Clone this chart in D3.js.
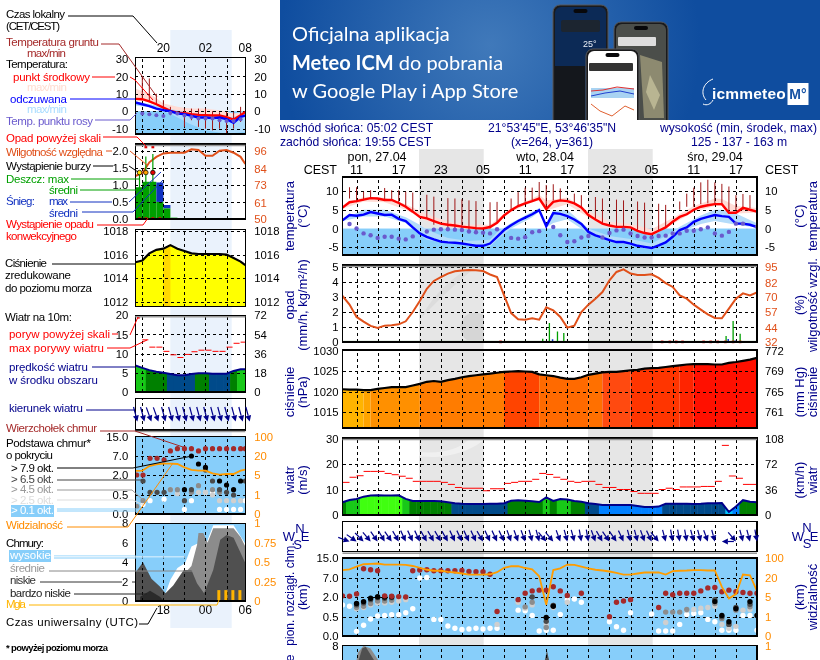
<!DOCTYPE html>
<html><head><meta charset="utf-8">
<script src="https://cdn.jsdelivr.net/npm/d3@7"></script>
<style>
html,body{margin:0;padding:0;background:#fff;overflow:hidden}
svg{display:block;font-family:"Liberation Sans",Arial,sans-serif;font-size:11px}
.axis .domain{display:none}
.axis text{font-family:"Liberation Sans",Arial,sans-serif;font-size:11.3px}
.grid .domain{display:none}
.grid line{stroke:#000;stroke-width:1;stroke-dasharray:3 3;shape-rendering:crispEdges}
.grid text{display:none}
</style></head><body>
<div id="chart"></div>
<script>
// ---------- DATA (hourly, local time; hour 24 = midnight 28.04) ----------
const mainHours = d3.range(9, 69);
const leftHours = d3.range(16, 32).concat([31.67]);
const hourTicksMain = [11,14,17,20,23,26,29,32,35,38,41,44,47,50,53,56,59,62,65];
const hourLabelsMain = [11,17,23,29,35,41,47,53,59,65];
const hourLabelTextMain = ["11","17","23","05","11","17","23","05","11","17"];
const hourTicksLeft = [17,20,23,26,29];

const tempMain = [5.6,7,7.3,7.7,8.1,8,7.6,7.6,6.8,5.8,4.5,3.1,2.7,2,1.3,1,.8,.5,.3,.1,0,.4,1.5,3.5,4.9,6,6.7,7.3,8,5.2,7.1,7.5,7.3,6.7,5.6,3.6,2.4,1.3,.8,.45,.45,.3,-.6,-1.2,-1.5,-.6,.3,1.8,3.1,3.8,5,5.8,6.2,6.5,6.5,4.2,4.2,5.5,5,4.5];
const feltMain = [2.2,3.6,3.4,3.7,4.4,4,3.6,3.7,2.6,2,.3,-1.3,-2.2,-2.9,-3.5,-3.7,-3.8,-4,-4.3,-4.6,-4.6,-4,-2.2,-.4,.9,2,2.9,3.8,4.9,.6,4.1,3.9,3.3,2.4,1.2,-.9,-1.8,-2.4,-3.1,-3.6,-3.6,-4,-4.6,-4.9,-5.2,-4.5,-3.7,-2.2,-.4,.3,1.8,2.6,3.1,3.6,3.3,3.1,1.3,1.3,1,.4];
const dewMain = [null,1.2,0,-1.3,-1.8,-2.5,-2.2,-2.2,-2.7,-2.9,-2.1,null,-.8,-.3,-.2,-.2,-.3,-.4,-.8,-1,-1.1,-1.3,-.2,null,-2.5,-2.7,-2.3,-1,-.7,null,.4,-1.8,-3.6,-3.4,-2.4,-2,null,-2.4,-1.2,-.5,-.3,-1.3,-2,-2.4,-2.4,-2,-1.9,-1.3,-1.3,-.6,-.6,-.2,.3,-1.3,-1.9,-.9,1.3,1.3,null,.5];
const groundMaxMain = [null,11,11,9.8,10.2,null,10.8,10.2,10.2,9.8,9.6,null,9,8.5,null,8.1,8,7.8,7.5,7.3,null,7,7.1,null,8,9.7,10.9,10.9,12.4,11.6,11.8,10.7,null,9.3,8.9,null,8.4,8,null,7.7,7.5,null,7.2,6.9,null,6.6,6.3,null,7.2,9.3,10.9,12.3,13,12.3,11.9,11.2,8.9,9.2,8.9,null];
const groundMinMain = [null,8,7,7.5,8,null,7.5,7.5,6.8,5.8,4.5,null,2.7,1,null,0,-.2,-.4,-.5,-.9,null,0,1.5,null,4.9,6,7,7.5,8,5.2,7.5,7.5,null,6.7,5.6,null,2.4,1.3,null,.45,.45,null,-.9,-1.3,null,-.5,.4,null,5,5.8,5.8,6.5,6.7,6.7,6.7,4.2,4.9,4.9,5.4,null];
const bandHours = [9,12,15,18,21,24,27,30,33,36,37,38,41,44,47,50,53,56,59,62,63,65,68];
const pinkUpper = [5.9,8.5,8.2,6.5,3.8,1.8,1,1,5.4,8,9,7.5,8.3,4.6,1.8,1.2,-.2,2.8,6,8,7.9,6,5.5];
const pinkLower = [5.3,7.2,7,5,2,.5,-.2,0,4.5,7,7.6,4.8,6.5,3,.5,0,-2,1.2,4.5,6,6,4,4.2];
const feltBandHours = [9,12,15,18,20,21,24,27,30,31,33,36,37,38,39,41,44,47,50,53,55,57,60,62,63,65,68];
const feltUpper = [2.4,5,5,3,1,-.3,-2.5,-3.3,-3,-1,1.5,4.5,5.5,1.5,4.8,5,0,-2,-2.8,-4,-2,.5,3.5,5,5,4,1.4];
const feltLower = [2,3.2,3.2,1.5,-1.8,-3,-4,-4.6,-4.8,-3,0,3,4.5,.3,1.5,2.5,-1.3,-3.5,-4.4,-5.5,-4,-1,1.2,2,1.7,1,.3];

const humidMain = [3.07,2.5,1.67,1.36,1.07,.93,1.09,1.11,1.18,1.38,2,2.73,3.55,4.07,4.33,4.56,4.71,4.76,4.8,4.78,4.73,4.5,4.33,3.11,1.93,1.51,1.49,1.58,1.49,2.31,2.11,1.67,.96,1.09,2,2.49,2.89,3.33,4.11,4.67,4.84,4.56,4.47,4.47,4.51,4.27,3.93,3.67,3.11,2.89,2.49,2.16,1.84,1.6,1.58,2.22,2.89,3.24,3.11,3.31];
const rainHours = [36.6,37.5,38.45,39.6,40.5,63.6,64.6,65.6];
const rainMax = [.05,.22,1.26,.7,.6,.4,1.4,.55];
const snowHours = [36.9,38.9,63.9,64.9,67.6];
const snowMax = [.06,.18,.2,.1,.05];
const convectiveHours = [31.5,54.5,55.6,56.5,57.4,60.4,61.4,62.4,63.5,64.6,65.6];

const pressMain = [1020.6,1020.5,1020.5,1020.4,1020.4,1020.7,1020.9,1021.1,1021.1,1021.1,1021.5,1021.9,1022.4,1022.6,1022.4,1022.8,1023.1,1023.5,1023.8,1024,1024.2,1024.4,1024.6,1024.8,1024.9,1025,1024.9,1024.8,1024.2,1024,1023.8,1023.4,1023.1,1023.1,1023.5,1024.1,1024.4,1024.7,1024.8,1024.8,1025,1025.2,1025.3,1025.6,1025.7,1025.8,1026,1026.2,1026.4,1026.6,1026.7,1026.7,1026.7,1026.6,1026.6,1027,1027.2,1027.5,1027.8,1028.2];
const pressSegStart = [9,12,13,20,32,37,44,46,50,57,59];
const pressSegEnd = [12,13,20,32,37,44,46,50,57,59,68];
const pressSegColor = ["#ffb400","#ffa400","#ff9000","#ff7c00","#ff4400","#ff6a00","#ff7000","#ff4a10","#ff3500","#ff2400","#ff1000"];

const windMain = [5,5.9,6.3,7.2,7.6,7.7,7.6,7.6,7.7,6.3,5.5,5.5,5.5,5.5,5.4,5,4.6,4.4,4.3,4.3,4.3,4.4,4.4,4.6,5.6,5.8,5.6,5.4,5.1,6.9,5.5,6.3,6.1,5.5,5.2,4.6,4.3,3.9,3.9,3.9,3.9,3.9,3.5,3.1,3.1,3.3,4.4,4.4,4.4,4.4,4.3,4.4,4.6,4.6,4.7,1.2,3.3,5.8,5.2,5];
const gustMain = [12.8,14.8,15.4,17.1,17.1,17.1,16.3,15.8,15.2,14.4,13.2,13.2,13.2,13.2,12.8,12,10.8,10.5,10.5,10.5,9.5,10.3,10.3,12.4,12.8,13.2,13.2,14,16.3,15.9,14.8,14,13.2,12.8,13.2,13.2,12,10.8,10.8,10,10,9.2,8.5,8.5,8.5,10,10.5,10,11,11,11,11.2,11.2,13.2,27.3,15.3,14.4,12,12];
const windDirMain = [null,290,305,315,320,325,330,325,330,335,335,335,330,330,330,330,335,335,335,335,330,335,335,335,340,340,340,345,345,320,320,340,345,345,350,350,340,330,325,325,335,345,345,340,335,320,345,350,350,350,345,345,340,345,90,null,320,345,345,350];
const windThresholds = [2,4,4.8,5.85,7];
const windColors = ["#00c8ff","#0080ff","#004a8a","#008000","#18c818","#40ff10"];

const cloudTopMain = [[9,2.3],[10,2.2],[11,2.8],[12,10.7],[13,10.3],[14,9.9],[15,2.3],[16,2.2],[17,2.1],[18,2],[19,9.9],[20,10.2],[21,10.3],[22,9.9],[23,9.9],[24,9.9],[25,9.9],[26,10],[27,9.6],[28,9.5],[29,9.5],[30,8.5],[31,.9],[34,1.8],[35,3],[36,3.6],[37,3.8],[38,3.8],[39,4.7],[40,3.6],[41,2.4],[43,3],[47,.5],[48,1.6],[49,1.7],[50,1.8],[54,1.2],[55,3],[56,2.6],[57,3],[58,3],[59,3],[60,3.6],[61,4.4],[62,4.5],[63,3.4],[64,3.8],[65,3.4],[66,3.2],[67,3],[68,3]];
const cloudWhiteMain = [[9,1.4],[10,1.3],[11,.12],[12,.28],[13,.44],[14,.55],[15,.6],[16,.65],[17,.65],[18,.8],[19,1.1],[20,7],[21,7.2],[22,.43],[23,.43],[24,.26],[25,.2],[26,.17],[27,.18],[28,.2],[29,.18],[30,.2],[31,.2],[34,1],[35,.95],[36,.6],[37,.13],[38,.15],[39,.15],[40,.67],[41,1.8],[42,1.85],[43,1.6],[47,.37],[48,.24],[49,.15],[50,.8],[53,.7],[54,.13],[55,.13],[56,.13],[57,.3],[58,.67],[59,.75],[60,.8],[61,.43],[62,.37],[63,.15],[64,.15],[65,.15],[66,.6],[67,.6],[68,.15]];
const cloudLightMain = [[11,1.1],[12,1.2],[13,1.4],[14,1.55],[15,1.55],[16,1.6],[17,1.7],[18,1.8],[31,.3],[34,1.6],[35,1.15],[36,1.4],[38,.3],[39,1.2],[41,1.6],[55,.35],[58,1],[59,1.05],[60,1.15],[61,1.2],[62,1.3],[63,.3],[64,.2],[65,.25],[66,1],[67,1.05],[68,.6]];
const cloudGrayMain = [[11,1.2],[12,1.3],[13,1.5],[14,1.7],[15,1.7],[16,1.75],[35,1.25],[36,1.6],[38,.22],[39,1.35],[55,.85],[56,.85],[57,.85],[58,1.05],[62,1.5],[63,.45],[64,.3],[65,1],[67,1.25]];
const cloudDarkMain = [[11,1.4],[12,1.55],[13,1.8],[14,1.95],[15,1.9],[16,1.95],[36,2],[38,.38],[39,1.35],[62,1.8],[63,.5],[64,.3],[65,1.2],[67,1.45]];
const cloudBlackMain = [[11,1.5],[12,1.65],[13,1.9],[14,2.05],[15,2],[16,2.05],[38,.48],[39,1.3],[62,1.65],[63,.6],[64,.37],[65,1.1],[67,1.65],[68,.6]];
const visMain = [51.7,54.5,65.5,75,76.5,78,73.8,73.8,73.8,72.4,68,61,53,49,49,44.8,42,38,33.8,33.8,33.8,35,43.4,61,67,67,60,54.5,27,3.4,51.7,58.6,73.8,72.4,65.5,58.6,53,50,46,40.7,33.8,33.8,38,42,42,42,33.8,47.6,49,50,51.7,51.7,50,50,13,4.7,7.3,33.8,31,9.7];
const mainCloudGrayHours = [11,11.2,12,13,14.1];
const mainCloudGrayVal = [6.5,7.3,8,7.7,6.5];
const mainCloudDarkHours = [11.3,11.8,12.3,13.5];
const mainCloudDarkVal = [6.5,7.7,7.9,6.5];
const mainCloudSpikeHours = [37.8,38.1,38.4];
const mainCloudSpikeVal = [6.5,7.5,6.5];

const tempLeft = [7.1,6.9,5.7,4,2.1,.2,-.8,-1.1,-1.7,-2.1,-2.3,-2.5,-2.5,-3.4,-4.8,-2.3,-.4];
const feltLeft = [5,4,2.9,1.5,.6,0,-1.3,-1.7,-2.7,-3.6,-3.6,-4,-3.6,-4.6,-6.7,-3.3,-2.5];
const dewLeft = [null,-1.3,-1.7,-2.3,-2.7,-1,-1.3,-2.5,-3.3,-4.2,-4.2,-4.2,-5.2,-5.6,-5.6,-4.6,null];
const pinkLeftUpper = [13,11.5,10.2,7.5,4.4,3.5,2.5,2,1.5,1.5,1.5,1,.6,-.3,-1.3,-.8,-.4];
const pinkLeftLower = [6.5,6,5,3.3,1.4,-.4,-1.4,-1.7,-2.3,-2.7,-2.9,-3,-3,-4,-5.5,-3,-1];
const feltLeftBandHours = [16,18,21,23.8,26,29,31.67];
const feltLeftUpper = [5.6,4.2,1.3,-1,-1.6,-3.5,-2.5];
const feltLeftLower = [3.3,2.3,-1.5,-7.3,-11,-13,-12];
const groundMaxLeft = [null,20.1,18.8,10,6.4,2.5,null,1.5,1.5,1.5,1.5,0,-.6,-.4,-.4,2.5,null];
const groundMinLeft = [null,6.3,5.4,4,2,-2.3,null,-9,-5.2,-9,-10,-11,-10,-12.8,-10,-6.2,null];
const humidLeft = [1.26,1.34,1.66,1.82,1.92,1.94,1.94,1.94,2.04,2.02,1.85,1.85,2,2.02,1.94,1.82,1.61];
const rainLeftHours = [16,17,18,19,20,21];
const rainLeftMean = [.93,1.09,1.09,.5,.31,.04];
const rainLeftSnowTop = [null,null,null,1.07,.41,null];
const rainMaxHours = [16.6,17.5,18.5];
const rainMaxVal = [1.38,1.83,1.9];
const stormHours = [16.6,17.5,18.5];
const stormColors = ["#ffe000","#ffa000","#e00000"];
const overScaleHours = [17.5,18.5];
const convectiveLeft = [16.6,17.5,18.5,19.5];
const pressLeft = [1015.35,1015.5,1016.1,1016.4,1016.5,1016.8,1016.5,1016.3,1016.1,1016.05,1016.05,1016.05,1016.05,1016,1015.7,1015.4,1015.1];
const pressLeftSegStart = [16,20];
const pressLeftSegEnd = [31.67,21];
const pressLeftSegColor = ["#ffff00","#ffd800"];
const windLeft = [6.9,6.3,5.7,5.3,5,4.7,4.4,4.4,4.7,4.9,4.9,4.75,4.75,4.75,5.5,5.9,5.9];
const gustLeftHours = [17,18,19,20,21,22,23,24,25,26,27,28,29,30,31];
const gustLeft = [13.6,11.7,11.7,10.6,9.7,9,9.8,10.5,10.9,10.9,10.6,10.6,11.7,12.7,13];
const windDirLeftHours = [16.3,17.3,18.3,19.3,20.3,21.3,22.3,23.3,24.3,25.3,26.3,27.3,28.3,29.3,30.3,31.3,32.3];
const windDirLeft = [345,345,340,340,345,345,345,345,345,345,345,345,345,345,345,345,345];
const cloudTopLeft = [[16.2,2],[17.1,2],[18.1,6.4],[19.1,6.4],[20.1,6],[21,9.1],[22,10],[23,10],[24,10],[25,9.1],[26,10],[27,10],[28,10],[29,10],[30,10],[31,10],[31.67,10]];
const cloudBlackLeft = [[23,.9],[24,7],[25,4.9],[26,4],[28,1.55],[29,1.25],[30,.9],[31,1.55]];
const cloudDarkLeft = [[17.1,1.55],[18.1,.7],[19.1,.7],[20.1,.7],[23,.35],[24,.9],[26,3.3],[27,1.55],[28,.9],[29,.7],[30,.5],[31.67,1.55]];
const cloudGrayLeft = [[16.2,.2],[17.1,.35],[21,.9],[22,.9],[24,.7],[25,1.2],[27,.9],[28,.7]];
const cloudLightLeft = [[21,.9],[22,.6],[25,.7],[26,.7],[27,.5],[28,.35],[29,.35],[30,.35],[31,.35]];
const cloudWhiteLeft = [[17.1,.25],[18.1,.35],[20.1,.39],[23,.12],[24,.35],[26,.7],[27,.7],[28,.12],[29,.12],[30,.12],[31,.12],[31.67,.35]];
const visLeft = [8.2,8.4,12.1,13.4,14,14,13.7,11,9,8.4,8.4,6.3,5.3,5.8,5.8,8.4,9.2];
const highCloudHours = [20.3,21,22,23.1,24,24.8,26.1,27.1,30,31.67];
const highCloudVal = [.8,2.2,3.4,3.9,5.6,5.9,5.9,7.8,7.8,5.9];
const midCloudHours = [23.1,24,24.8,25,25.7,26.3,27.1,30,31,31.67];
const midCloudVal = [2.9,3.6,5.8,7,7,6,7.5,7.5,6.6,5.6];
const lowCloudHours = [16,17.1,18.3,19.5,20.3,21.4,22.9,24,24.8,25.8,27.1,28.1,29,30,31.67];
const lowCloudVal = [2.9,4,2.3,1.5,.8,1.6,3.2,3.2,1.8,.8,3.2,6.3,6.8,6.5,3.9];
const vlowCloudHours = [16.7,18.1,19.5,20.1];
const vlowCloudVal = [.45,1.05,.45,0];
const fogHours = [27.9,28.9,29.9,30.9];
const fogVal = [.14,.14,.14,.14];

// tick label lists
const tempTicksMain=[-5,0,5,10], opadTicks=[0,1,2,3,4,5], humidTicks=[95,82,70,57,44,32];
const pressTicks=[1015,1020,1025,1030], mmHgLabels=["761","765","769","772"];
const windTicks=[0,10,20,30], windKmh=[0,36,72,108];
const cloudAxisKm=[0,.5,2,7,15], visAxisKm=[0,1,5,20,100];
const tempTicksLeft=[-10,0,10,20,30], rainTicksLeft=[0,.5,1,1.5,2], humidLeftTicks=[50,61,73,84,96];
const pressLeftTicks=[1012,1014,1016,1018], windLeftTicks=[0,5,10,15,20], windLeftKmh=[0,18,36,54,72];
const cloudLeftTicks=[0,2,4,6,8], fogTicks=[0,.25,.5,.75,1];

// ---------- SETUP ----------
const W=820,H=660;
const svg=d3.select("#chart").append("svg").attr("width",W).attr("height",H).attr("viewBox",[0,0,W,H]);
const defs=svg.append("defs");
const C={navy:"#00008b",orange:"#ff8c00",hum:"#e0501a",red:"#ff0000",brown:"#a52a2a",blue:"#0000ff",dew:"#6a5acd",sky:"#87cefa",pink:"#ffdcd6",lblue:"#b4dcfa"};
const plain=d=>String(d);

// ---------- BANNER ----------
const grad=defs.append("radialGradient").attr("id","bn").attr("gradientUnits","userSpaceOnUse").attr("cx",490).attr("cy",45).attr("r",210);
grad.append("stop").attr("offset",0).attr("stop-color","#4079ba");
grad.append("stop").attr("offset",1).attr("stop-color","#0f4d9f");
defs.append("clipPath").attr("id","bnclip").append("rect").attr("x",280).attr("y",0).attr("width",540).attr("height",120);
const banner=svg.append("g").attr("clip-path","url(#bnclip)");
banner.append("rect").attr("x",280).attr("y",0).attr("width",540).attr("height",120).attr("fill","url(#bn)");
const bannerText=(y,parts)=>{const t=banner.append("text").attr("x",292).attr("y",y).attr("fill","#fff").attr("font-family","Lato").attr("font-size",20);parts.forEach(p=>t.append("tspan").attr("font-weight",p[1]?700:400).text(p[0]));};
bannerText(41,[["Oficjalna aplikacja",false]]);
bannerText(70,[["Meteo ICM",true],[" do pobrania",false]]);
bannerText(98,[["w Google Play i App Store",false]]);
function phone(x,y,w,h,fill){banner.append("rect").attr("x",x).attr("y",y).attr("width",w).attr("height",h+10).attr("rx",7).attr("fill","#1a1a1c").attr("stroke","#56585c").attr("stroke-width",1);
 banner.append("rect").attr("x",x+2).attr("y",y+2).attr("width",w-4).attr("height",h+8).attr("rx",6).attr("fill",fill);
 banner.append("rect").attr("x",x+w/2-7).attr("y",y+4).attr("width",14).attr("height",4).attr("rx",2).attr("fill","#08080a");}
phone(553,5,55,115,"#0c2a56");
banner.append("rect").attr("x",561).attr("y",20).attr("width",39).attr("height",12).attr("rx",2).attr("fill","#1c2530");
banner.append("text").attr("x",583).attr("y",47).attr("fill","#e8eef6").attr("font-size",9).text("25°");
banner.append("rect").attr("x",555).attr("y",66).attr("width",30).attr("height",54).attr("fill","#14171c");
phone(614,22,54,98,"#4b4e4a");
banner.append("rect").attr("x",618).attr("y",37).attr("width",38).attr("height",9).attr("rx",1).attr("fill","#ddd");
banner.append("path").attr("d","M640 55L662 62L664 118L644 118Z").attr("fill","#8d8a70");
banner.append("path").attr("d","M650 75L660 95L654 110L646 92Z").attr("fill","#b9b592");
phone(586,49,53,71,"#ffffff");
banner.append("rect").attr("x",589).attr("y",63).attr("width",44).attr("height",8).attr("rx",1).attr("fill","#333");
banner.append("rect").attr("x",591).attr("y",88).attr("width",43).attr("height",10).attr("fill","#a9d3f2");
banner.append("path").attr("d","M591 91L603 90L617 87L634 89").attr("fill","none").attr("stroke","#e03030").attr("stroke-width",1);
banner.append("path").attr("d","M591 96L605 93L620 91L634 94").attr("fill","none").attr("stroke","#2040d0").attr("stroke-width",1);
banner.append("path").attr("d","M591 104L600 111L612 116L625 106L634 110").attr("fill","none").attr("stroke","#e06030").attr("stroke-width",1);
banner.append("text").attr("x",712).attr("y",99).attr("fill","#fff").attr("font-size",15.5).attr("font-weight",700).attr("letter-spacing",.2).text("icmmeteo");
banner.append("path").attr("d","M706 100C700 93 703 83 713 79M703 104C707 106 711 104 713 100").attr("fill","none").attr("stroke","#fff").attr("stroke-width",1);
banner.append("rect").attr("x",787.5).attr("y",83).attr("width",21).attr("height",22).attr("fill","#fff");
banner.append("text").attr("x",798).attr("y",99).attr("text-anchor","middle").attr("fill","#1652a4").attr("font-size",14).attr("font-weight",700).text("M°");

// ---------- SCALES ----------
const xM=d3.scaleLinear().domain([9,68]).range([342.5,757]);
const xL=d3.scaleLinear().domain([16,31.67]).range([135.3,245.3]);
function clipFor(id,x,y,w,h){defs.append("clipPath").attr("id",id).append("rect").attr("x",x).attr("y",y).attr("width",w).attr("height",h);}

// night bands, with the faint watermark that shows through the first one
svg.append("rect").attr("x",419).attr("y",149).attr("width",64.7).attr("height",511).attr("fill","#e6e6e6");
svg.append("rect").attr("x",588).attr("y",149).attr("width",64.7).attr("height",511).attr("fill","#e6e6e6");
svg.append("rect").attr("x",170.3).attr("y",30).attr("width",61.4).attr("height",598).attr("fill","#eaf2fc");
svg.append("path").attr("d","M421 318C436 290 458 272 482 262C462 278 442 296 421 318Z").attr("fill","#dcdcdc");
svg.append("path").attr("d","M483.7 315A13 13 0 0 0 467 340L483.7 340Z").attr("fill","#d6d6d6");
svg.append("path").attr("d","M419 456C442 460 470 452 483.7 440L483.7 438L470 438C460 450 440 454 419 452Z").attr("fill","#f0f0f0");

// panel helper
function Panel(x,top,bottom,id,ticksX){
  const [l,r]=x.range();
  clipFor(id,l,top,r-l,bottom-top);
  const g=svg.append("g");
  const inner=g.append("g").attr("clip-path",`url(#${id})`);
  return {g,inner,top,bottom,l,r,x,ticksX,
    grid(y,yt){
      inner.append("g").attr("class","grid").attr("transform",`translate(0,${bottom})`)
        .call(d3.axisBottom(x).tickValues(ticksX).tickSize(-(bottom-top)));
      if(y) inner.append("g").attr("class","grid").attr("transform",`translate(${l},0)`)
        .call(d3.axisLeft(y).tickValues(yt).tickSize(-(r-l)));
    },
    border(){g.append("rect").attr("x",l).attr("y",top).attr("width",r-l).attr("height",bottom-top).attr("fill","none").attr("stroke","#000").attr("stroke-width",1.2).style("shape-rendering","crispEdges");},
    shade(side){const yy=side==="top"?top+1.5:bottom+1.5;g.append("line").attr("x1",l).attr("x2",r).attr("y1",yy).attr("y2",yy).attr("stroke","#999").attr("stroke-width",1.5);}
  };
}
function axisL(p,y,vals,fmt,pad,col){const a=d3.axisLeft(y).tickValues(vals).tickSize(0).tickPadding(pad).tickFormat(fmt||plain);
  p.g.append("g").attr("class","axis").attr("transform",`translate(${p.l},0)`).call(a).call(s=>s.selectAll("text").attr("fill",col||"#000"));}
function axisR(p,y,vals,fmt,pad,col){const a=d3.axisRight(y).tickValues(vals).tickSize(0).tickPadding(pad).tickFormat(fmt||plain);
  p.g.append("g").attr("class","axis").attr("transform",`translate(${p.r},0)`).call(a).call(s=>s.selectAll("text").attr("fill",col||"#000"));}
const lineG=(x,y)=>d3.line().defined((d)=>d[1]!=null).x(d=>x(d[0])).y(d=>y(d[1]));
const zip=(a,b)=>a.map((v,i)=>[v,b[i]]);
function plotLine(p,y,hours,vals,col,w){p.inner.append("path").datum(zip(hours,vals)).attr("d",lineG(p.x,y)).attr("fill","none").attr("stroke",col).attr("stroke-width",w);}
function plotBand(p,y,hours,up,lo,col){p.inner.append("path").datum(hours.map((h,i)=>[h,up[i],lo[i]])).attr("d",d3.area().x(d=>p.x(d[0])).y0(d=>y(d[2])).y1(d=>y(d[1]))).attr("fill",col);}
function plotArea(p,y,hours,vals,base,col){p.inner.append("path").datum(zip(hours,vals)).attr("d",d3.area().x(d=>p.x(d[0])).y0(y(base)).y1(d=>y(d[1]))).attr("fill",col);}
function dots(p,y,pts,col,r){p.inner.append("g").selectAll("circle").data(pts.filter(d=>d[1]!=null)).join("circle").attr("cx",d=>p.x(d[0])).attr("cy",d=>y(d[1])).attr("r",r).attr("fill",col);}
function gustDashes(p,y,hours,vals,w){p.inner.append("g").selectAll("line").data(zip(hours,vals)).join("line").attr("x1",d=>p.x(d[0])).attr("x2",d=>p.x(d[0])+w).attr("y1",d=>y(d[1])).attr("y2",d=>y(d[1])).attr("stroke",C.red).attr("stroke-width",1);}
function ground(p,y,hours,mx,mn){p.inner.append("g").selectAll("line").data(hours.map((h,i)=>[h,mx[i],mn[i]]).filter(d=>d[1]!=null)).join("line").attr("x1",d=>p.x(d[0])).attr("x2",d=>p.x(d[0])).attr("y1",d=>y(d[1])).attr("y2",d=>y(d[2])).attr("stroke","#a01818").attr("stroke-width",1);}
function windCols(p,y,hours,vals){const c=d3.scaleThreshold().domain(windThresholds).range(windColors);
  const id=p.inner.attr("clip-path").slice(5,-1)+"w";
  defs.append("clipPath").attr("id",id).append("path").datum(zip(hours,vals)).attr("d",d3.area().x(d=>p.x(d[0])).y0(y(0)).y1(d=>y(d[1])));
  p.inner.append("g").attr("clip-path",`url(#${id})`).selectAll("rect").data(zip(hours,vals)).join("rect")
    .attr("x",d=>p.x(d[0]-.5)).attr("width",(p.x(1)-p.x(0))+.5).attr("y",p.top).attr("height",p.bottom-p.top).attr("fill",d=>c(d[1]));}
function segCols(p,y,hours,vals,s,e,col,base){const id=p.inner.attr("clip-path").slice(5,-1)+"p";
  defs.append("clipPath").attr("id",id).append("path").datum(zip(hours,vals)).attr("d",d3.area().x(d=>p.x(d[0])).y0(p.bottom).y1(d=>y(d[1])));
  p.inner.append("g").attr("clip-path",`url(#${id})`).selectAll("rect").data(s.map((v,i)=>[v,e[i],col[i]])).join("rect")
    .attr("x",d=>p.x(d[0])).attr("width",d=>p.x(d[1])-p.x(d[0])).attr("y",p.top).attr("height",p.bottom-p.top).attr("fill",d=>d[2]);}
function arrows(p,hours,dirs,tipY,len,col){const g=svg.append("g");
  zip(hours,dirs).filter(d=>d[1]!=null).forEach(d=>{const a=d[1]*Math.PI/180,tx=p.x(d[0]),dx=Math.sin(a),dy=-Math.cos(a);
    const bx=tx+dx*len,by=tipY+dy*len,hx=tx+dx*6,hy=tipY+dy*6,px=-dy*3,py=dx*3;
    g.append("line").attr("x1",bx).attr("y1",by).attr("x2",hx).attr("y2",hy).attr("stroke",col).attr("stroke-width",1.2);
    g.append("path").attr("d",`M${tx},${tipY}L${hx+px},${hy+py}L${hx-px},${hy-py}Z`).attr("fill",col);});}
const cleanSky=(p)=>p.inner.append("rect").attr("x",p.l).attr("y",p.top).attr("width",p.r-p.l).attr("height",p.bottom-p.top).attr("fill",C.sky).style("mix-blend-mode","multiply");

// ---------- MAIN PANELS ----------
const pT=Panel(xM,177,255,"m1",hourTicksMain);
const yT=d3.scaleLinear().domain([-5,10]).range([247.3,191]);
pT.inner.append("rect").attr("x",pT.l).attr("y",yT(0)).attr("width",pT.r-pT.l).attr("height",pT.bottom-yT(0)).attr("fill",C.sky).style("mix-blend-mode","multiply");
plotBand(pT,yT,bandHours,pinkUpper,pinkLower,C.pink);
plotBand(pT,yT,feltBandHours,feltUpper,feltLower,C.lblue);
pT.grid(yT,[-5,5,10]);
ground(pT,yT,mainHours,groundMaxMain,groundMinMain);
plotLine(pT,yT,mainHours,tempMain,C.red,2.4);
plotLine(pT,yT,mainHours,feltMain,C.blue,2.4);
dots(pT,yT,zip(mainHours,dewMain),C.dew,2.2);
pT.border();axisL(pT,yT,tempTicksMain,null,4);axisR(pT,yT,tempTicksMain,null,8);

const pO=Panel(xM,265,342,"m2",hourTicksMain);
const yO=d3.scaleLinear().domain([0,5]).range([342,267]);
const yH=d3.scaleLinear().domain([32,95]).range([342,267]);
pO.grid(yO,[1,2,3,4,5]);
plotLine(pO,yO,mainHours,humidMain,C.hum,2);
pO.inner.append("g").selectAll("line").data(zip(rainHours,rainMax)).join("line").attr("x1",d=>xM(d[0])).attr("x2",d=>xM(d[0])).attr("y1",yO(0)).attr("y2",d=>yO(d[1])).attr("stroke","#00a000").attr("stroke-width",1.3);
pO.inner.append("g").selectAll("line").data(zip(snowHours,snowMax)).join("line").attr("x1",d=>xM(d[0])).attr("x2",d=>xM(d[0])).attr("y1",yO(0)).attr("y2",d=>yO(d[1])).attr("stroke","#1030d0").attr("stroke-width",1.5);
pO.inner.append("line").attr("x1",pO.l).attr("x2",pO.r).attr("y1",yO(0)-.6).attr("y2",yO(0)-.6).attr("stroke","#006400").attr("stroke-width",.8);
pO.g.append("g").selectAll("rect").data(convectiveHours).join("rect").attr("x",d=>xM(d)-1.3).attr("y",yO(0)-1.4).attr("width",2.6).attr("height",2.6).attr("fill","#e00000");
pO.border();pO.shade("top");axisL(pO,yO,opadTicks,null,4);axisR(pO,yH,humidTicks,null,8,C.hum);

const pP=Panel(xM,350,428,"m3",hourTicksMain);
const yP=d3.scaleLinear().domain([1015,1030]).range([412.3,350.5]);
segCols(pP,yP,mainHours,pressMain,pressSegStart,pressSegEnd,pressSegColor);
pP.grid(yP,[1015,1020,1025]);
plotLine(pP,yP,mainHours,pressMain,"#000",2.2);
pP.border();axisL(pP,yP,pressTicks,null,4);axisR(pP,yP,pressTicks,(d,i)=>mmHgLabels[i],8);

const pW=Panel(xM,438,515,"m4",hourTicksMain);
const yW=d3.scaleLinear().domain([0,30]).range([515,438.5]);
const yWk=d3.scaleLinear().domain([0,108]).range([515,438.5]);
windCols(pW,yW,mainHours,windMain);
pW.grid(yW,[10,20]);
gustDashes(pW,yW,mainHours.slice(0,59),gustMain,xM(1)-xM(0));
plotLine(pW,yW,mainHours,windMain,"#00008b",2);
pW.border();pW.shade("top");axisL(pW,yW,windTicks,null,4);axisR(pW,yWk,windKmh,null,8);

const pD=Panel(xM,521.7,551.7,"m5",hourTicksMain);
pD.grid();pD.border();pD.shade("bottom");
arrows(pD,mainHours,windDirMain,541.5,12,"#00008b");

const pC=Panel(xM,558,636,"m6",hourTicksMain);
const yC=d3.scaleLinear().domain(cloudAxisKm).range([636,616.7,597,578,558]);
const yV=d3.scaleLinear().domain(visAxisKm).range([636,616.7,597,578,558]);
cleanSky(pC);
pC.grid(yC,[.5,2,7]);
function cloudSet(p,y,w,l,g,dk,b,top,r){dots(p,y,w,"#fff",r);dots(p,y,l,"#cfcfcf",r);dots(p,y,g,"#8c8c8c",r);dots(p,y,dk,"#4a4a4a",r);dots(p,y,b,"#000",r);dots(p,y,top,"#a52a2a",r);}
cloudSet(pC,yC,cloudWhiteMain,cloudLightMain,cloudGrayMain,cloudDarkMain,cloudBlackMain,cloudTopMain,2.7);
plotLine(pC,yV,mainHours,visMain,"#ff9c00",1.8);
pC.border();axisL(pC,yC,cloudAxisKm,d3.format(".1f"),4);axisR(pC,yV,visAxisKm,null,8,C.orange);

const pK=Panel(xM,645.7,724,"m7",hourTicksMain);
const yK=d3.scaleLinear().domain([0,8]).range([723.5,645.7]);
const yKr=d3.scaleLinear().domain([0,1]).range([723.5,645.7]);
cleanSky(pK);
plotArea(pK,yK,mainCloudGrayHours,mainCloudGrayVal,5,"#8c8c8c");
plotArea(pK,yK,mainCloudDarkHours,mainCloudDarkVal,5,"#505050");
plotArea(pK,yK,mainCloudSpikeHours,mainCloudSpikeVal,5,"#505050");
pK.grid();pK.border();axisL(pK,yK,[8],null,4);axisR(pK,yKr,[1],null,8,C.orange);

// ---------- LEFT PANELS ----------
const lT=Panel(xL,57.3,134,"l1",hourTicksLeft);
const yLT=d3.scaleLinear().domain([-10,30]).range([128.6,59]);
lT.inner.append("rect").attr("x",lT.l).attr("y",yLT(0)).attr("width",lT.r-lT.l).attr("height",lT.bottom-yLT(0)).attr("fill",C.sky).style("mix-blend-mode","multiply");
plotBand(lT,yLT,leftHours,pinkLeftUpper,pinkLeftLower,C.pink);
plotBand(lT,yLT,feltLeftBandHours,feltLeftUpper,feltLeftLower,"#aedcfc");
lT.grid(yLT,[-10,0,10,20]);
ground(lT,yLT,leftHours,groundMaxLeft,groundMinLeft);
plotLine(lT,yLT,leftHours,tempLeft,C.red,2.4);
plotLine(lT,yLT,leftHours,feltLeft,C.blue,2.4);
dots(lT,yLT,zip(leftHours,dewLeft),C.dew,2);
lT.border();axisL(lT,yLT,tempTicksLeft,null,7);axisR(lT,yLT,tempTicksLeft,null,9);

const lR=Panel(xL,144,219,"l2",hourTicksLeft);
const yLR=d3.scaleLinear().domain([0,2]).range([219,150.7]);
const yLH=d3.scaleLinear().domain([50,96]).range([219,150.7]);
lR.inner.append("g").selectAll("rect").data(rainLeftHours.map((h,i)=>[h,rainLeftMean[i],rainLeftSnowTop[i]])).join("g").each(function(d){const s=d3.select(this);
  if(d[2]!=null) s.append("rect").attr("x",xL(d[0])).attr("width",xL(1)-xL(0)).attr("y",yLR(d[2])).attr("height",yLR(d[1])-yLR(d[2])).attr("fill","#1030c0");
  s.append("rect").attr("x",xL(d[0])).attr("width",xL(1)-xL(0)).attr("y",yLR(d[1])).attr("height",yLR(0)-yLR(d[1])).attr("fill","#00a000");});
lR.grid(yLR,[.5,1,1.5,2]);
plotLine(lR,yLR,leftHours,humidLeft,C.hum,2);
lR.inner.append("g").selectAll("line").data(zip(rainMaxHours,rainMaxVal)).join("line").attr("x1",d=>xL(d[0])).attr("x2",d=>xL(d[0])).attr("y1",yLR(.8)).attr("y2",d=>yLR(d[1])).attr("stroke","#00a000").attr("stroke-width",1.2);
lR.g.append("g").selectAll("circle").data(zip(stormHours,stormColors)).join("circle").attr("cx",d=>xL(d[0])).attr("cy",yLR(1.36)).attr("r",2.3).attr("fill",d=>d[1]).attr("stroke","#000").attr("stroke-width",.7);
lR.g.append("g").selectAll("rect").data(overScaleHours).join("rect").attr("x",d=>xL(d)-1.4).attr("y",145.5).attr("width",2.8).attr("height",2.8).attr("fill","#e00000");
lR.g.append("g").selectAll("rect").data(convectiveLeft).join("rect").attr("x",d=>xL(d)-1.3).attr("y",217.2).attr("width",2.6).attr("height",2).attr("fill","#e00000");
lR.border();lR.shade("top");axisL(lR,yLR,rainTicksLeft,d3.format(".1f"),7);axisR(lR,yLH,humidLeftTicks,null,9,C.hum);

const lP=Panel(xL,229.3,306.7,"l3",hourTicksLeft);
const yLP=d3.scaleLinear().domain([1012,1018]).range([301.7,231]);
segCols(lP,yLP,leftHours,pressLeft,pressLeftSegStart,pressLeftSegEnd,pressLeftSegColor);
lP.grid(yLP,[1012,1014,1016,1018]);
plotLine(lP,yLP,leftHours,pressLeft,"#000",2.2);
lP.border();axisL(lP,yLP,pressLeftTicks,null,7);axisR(lP,yLP,pressLeftTicks,null,9);

const lW=Panel(xL,315.3,392,"l4",hourTicksLeft);
const yLW=d3.scaleLinear().domain([0,20]).range([392,315.3]);
const yLWk=d3.scaleLinear().domain([0,72]).range([392,315.3]);
windCols(lW,yLW,leftHours,windLeft);
lW.grid(yLW,[5,10,15]);
gustDashes(lW,yLW,gustLeftHours,gustLeft,xL(1)-xL(0)-1);
plotLine(lW,yLW,leftHours,windLeft,"#00008b",2);
lW.g.append("rect").attr("x",xL(16.45)-1.3).attr("y",316).attr("width",2.6).attr("height",2.6).attr("fill","#e00000");
lW.border();lW.shade("top");axisL(lW,yLW,windLeftTicks,null,7);axisR(lW,yLWk,windLeftKmh,null,9);

const lD=Panel(xL,398.3,430,"l5",hourTicksLeft);
lD.grid();lD.border();lD.shade("bottom");
arrows(lD,windDirLeftHours,windDirLeft,421.5,15,"#00008b");

const lC=Panel(xL,436.7,514,"l6",hourTicksLeft);
const yLC=d3.scaleLinear().domain(cloudAxisKm).range([514,495,475,456,436.5]);
const yLV=d3.scaleLinear().domain(visAxisKm).range([514,495,475,456,436.5]);
cleanSky(lC);
lC.grid(yLC,[.5,2,7]);
cloudSet(lC,yLC,cloudWhiteLeft,cloudLightLeft,cloudGrayLeft,cloudDarkLeft,cloudBlackLeft,cloudTopLeft,2.6);
plotLine(lC,yLV,leftHours,visLeft,"#ff9c00",1.8);
lC.border();axisL(lC,yLC,cloudAxisKm,d3.format(".1f"),7);axisR(lC,yLV,visAxisKm,null,9,C.orange);

const lK=Panel(xL,523.3,601,"l7",hourTicksLeft);
const yLK=d3.scaleLinear().domain([0,8]).range([601,523.3]);
const yLF=d3.scaleLinear().domain([0,1]).range([601,523.3]);
cleanSky(lK);
plotArea(lK,yLK,highCloudHours,highCloudVal,0,"#fff");
plotArea(lK,yLK,midCloudHours,midCloudVal,0,"#8c8c8c");
plotArea(lK,yLK,lowCloudHours,lowCloudVal,0,"#505050");
plotArea(lK,yLK,vlowCloudHours,vlowCloudVal,0,"#2a2a2a");
lK.grid();
lK.inner.append("g").selectAll("rect").data(zip(fogHours,fogVal)).join("rect").attr("x",d=>xL(d[0])-1.5).attr("width",3).attr("y",d=>yLF(d[1])).attr("height",d=>yLF(0)-yLF(d[1])).attr("fill","#ffb400");
lK.border();axisL(lK,yLK,cloudLeftTicks,null,7);axisR(lK,yLF,fogTicks,null,9,C.orange);

// ---------- TEXT ----------
function txt(x,y,s,col,anchor,size){const t=svg.append("text").attr("x",x).attr("y",y).attr("fill",col||"#000").attr("text-anchor",anchor||"start").text(s);if(size)t.attr("font-size",size);return t;}
function rot(x,y,s,col,size){svg.append("text").attr("transform",`translate(${x},${y}) rotate(-90)`).attr("text-anchor","middle").attr("fill",col||C.navy).attr("font-size",size||13).text(s);}
txt(280,132,"wschód słońca: 05:02 CEST",C.navy,"start",12.2);
txt(280,146,"zachód słońca: 19:55 CEST",C.navy,"start",12.2);
txt(552,132,"21°53'45\"E, 53°46'35\"N",C.navy,"middle",12.2);
txt(552,146,"(x=264, y=361)",C.navy,"middle",12.2);
txt(817,132,"wysokość (min, środek, max)",C.navy,"end",12.2);
txt(739,146,"125 - 137 - 163 m",C.navy,"middle",12.2);
txt(377,161,"pon, 27.04","#000","middle",12.5);
txt(545,161,"wto, 28.04","#000","middle",12.5);
txt(715,161,"śro, 29.04","#000","middle",12.5);
txt(337,174,"CEST","#000","end",12.5);
txt(765,174,"CEST","#000","start",12.5);
hourLabelsMain.forEach((h,i)=>txt(xM(h),174,hourLabelTextMain[i],"#000","middle",12.5));
[["20",20],["02",26],["08",31.67]].forEach(d=>txt(xL(d[1]),52,d[0],"#000","middle",12));
[["18",20],["00",26],["06",31.67]].forEach(d=>txt(xL(d[1]),614,d[0],"#000","middle",12));

rot(294,216,"temperatura");rot(307,216,"(°C)");
rot(294,305,"opad");rot(307,305,"(mm/h, kg/m²/h)");
rot(294,392,"ciśnienie");rot(307,392,"(hPa)");
rot(294,480,"wiatr");rot(307,480,"(m/s)");
rot(294,594,"pion. rozciągł. chm.",C.navy,12);rot(307,597,"(km)");
rot(294,695,"zachmurzenie");
rot(804,216,"(°C)");rot(817,216,"temperatura");
rot(804,305,"(%)");rot(817,305,"wilgotność wzgl.");
rot(804,392,"(mm Hg)");rot(817,392,"ciśnienie");
rot(804,480,"(km/h)");rot(817,480,"wiatr");
rot(804,597,"(km)");rot(817,597,"widzialność");

// compass roses
[["W",798,541],["N",807,532],["S",807,548],["E",814,541],["W",289,541],["N",300,533],["S",297.5,549],["E",305,541]].forEach(d=>txt(d[1],d[2],d[0],C.navy,"middle",13));

// legend highlight boxes
svg.append("rect").attr("x",11).attr("y",505).attr("width",43).attr("height",12).attr("fill","#87cefa");
svg.append("rect").attr("x",9).attr("y",550).attr("width",42).attr("height",12).attr("fill","#87cefa");

// legend: text, x, baseline, right end, colour
const legend=[
["Czas lokalny",6,18,65,"#000"],["(CET/CEST)",6,30,60,"#000"],["Temperatura gruntu",6,46,99,"#a52a2a"],["max/min",27,57,66,"#a52a2a"],
["Temperatura:",6,68,68,"#000"],["punkt środkowy",13,81,90,"#ff0000"],["max/min",27,91,67,"#ffdcd0"],["odczuwana",10,103,67,"#0000ff"],
["max/min",27,113,67,"#a8dcff"],["Temp. punktu rosy",6,125,93,"#6a5acd"],["Opad powyżej skali",6,142,101,"#ff0000"],["Wilgotność względna",6,156,103,"#e0501a"],
["Wystąpienie burzy",6,170,91,"#000"],["Deszcz: max",6,183,69,"#00a000"],["średni",49,194,78,"#00a000"],["Śnieg:",6,205,35,"#1030c0"],["max",49,205,68,"#1030c0"],["średni",49,217,78,"#1030c0"],
["Wystąpienie opadu",6,228,94,"#ff0000"],["konwekcyjnego",6,240,77,"#ff0000"],["Ciśnienie",5,267,47,"#000"],["zredukowane",5,279,71,"#000"],["do poziomu morza",5,292,92,"#000"],
["Wiatr na 10m:",5,321,72,"#000"],["poryw powyżej skali",9,338,110,"#ff0000"],["max porywy wiatru",9,352,104,"#ff0000"],["prędkość wiatru",9,371,88,"#00008b"],["w środku obszaru",9,384,98,"#00008b"],
["kierunek wiatru",9,412,83,"#00008b"],["Wierzchołek chmur",6,432,97,"#a52a2a"],["Podstawa chmur*",6,447,91,"#000"],["o pokryciu",6,459,53,"#000"],
["> 7.9 okt.",11,472,54,"#000"],["> 6.5 okt.",11,483,54,"#444"],["> 4.5 okt.",11,493,54,"#999"],["> 2.5 okt.",11,504,54,"#ddd"],["> 0.1 okt.",11,514,54,"#fff"],
["Widzialność",6,529,63,"#ff8c00"],["Chmury:",6,547,44,"#000"],["wysokie",10,559,51,"#fff"],["średnie",10,572,45,"#999"],["niskie",10,584,36,"#333"],["bardzo niskie",10,597,71,"#222"],["Mgła",6,608,26,"#ffb400"],
["Czas uniwersalny (UTC)",6,626,138,"#000"]];
legend.forEach(d=>txt(d[1],d[2],d[0],d[4],"start",11.5).attr("textLength",d[3]-d[1]).attr("lengthAdjust","spacing"));
txt(6,651,"* powyżej poziomu morza","#000","start",9.5).attr("font-weight",700).attr("textLength",102);

const leaders=[
["#000",[[68,16],[133,16],[157,43]]],["#a52a2a",[[101,44],[119,44],[157,97]]],["#ff0000",[[92,77],[115,77]]],["#ff0000",[[130,77],[135,80],[153,100]]],
["#0000ff",[[70,99],[135,99]]],["#6a5acd",[[95,120],[130,120],[137,113]]],["#ff0000",[[103,137],[137,137],[146,146]]],["#e0501a",[[106,151],[112,151]]],["#e0501a",[[130,151],[147,165]]],
["#000",[[93,166],[113,166]]],["#000",[[129,166],[138,172]]],["#00a000",[[71,179],[139,179]]],["#00a000",[[80,190],[147,190]]],["#1030c0",[[70,202],[112,202]]],["#1030c0",[[129,202],[161,172]]],
["#1030c0",[[82,212],[133,212],[163,180]]],["#ff0000",[[97,225],[143,225],[148,218]]],["#000",[[52,264],[135,264]]],["#ff0000",[[112,334],[118,334]]],["#ff0000",[[130,335],[138,317]]],
["#ff0000",[[107,348],[130,348],[147,340]]],["#00008b",[[92,367],[135,367]]],["#00008b",[[86,410],[135,410]]],["#a52a2a",[[100,431],[135,431],[183,447]]],
["#000",[[57,468],[133,468],[192,456]]],["#444",[[57,480],[143,480]]],["#999",[[57,490],[132,490],[143,500]]],["#ddd",[[57,500],[133,500],[143,505]]],["#87cefa",[[57,509],[143,509]]],["#87cefa",[[57,511],[143,511]]],
["#ff8c00",[[67,527],[128,527],[173,463]]],["#87cefa",[[54,556],[185,556]]],["#fff",[[54,557],[185,557]]],["#87cefa",[[54,558],[185,558]]],["#888",[[49,571],[193,571]]],["#333",[[40,582],[122,582]]],["#333",[[132,582],[135,582]]],["#222",[[74,594],[147,594]]],
["#ffb400",[[29,605],[217,605],[219,600]]],["#000",[[139,624],[148,624],[157,608]]]];
const lg=d3.line();
svg.append("g").selectAll("path").data(leaders).join("path").attr("d",d=>lg(d[1])).attr("fill","none").attr("stroke",d=>d[0]).attr("stroke-width",1);
</script>
</body></html>
